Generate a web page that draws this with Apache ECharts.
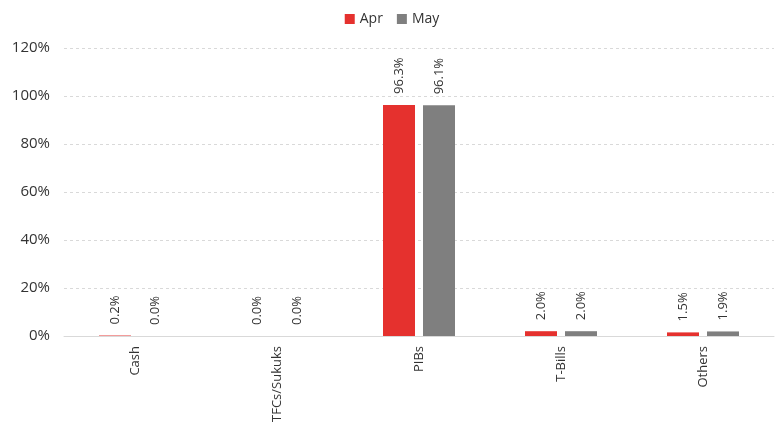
<!DOCTYPE html>
<html><head><meta charset="utf-8">
<script src="https://cdn.jsdelivr.net/npm/echarts@6/dist/echarts.min.js"></script>
<style>html,body{margin:0;padding:0;background:#fff}#c{width:784px;height:427px}</style>
</head><body><div id="c"></div>
<script>
var categories = ['Cash', 'TFCs/Sukuks', 'PIBs', 'T-Bills', 'Others'];
var aprValues = [0.2, 0.0, 96.3, 2.0, 1.5];
var mayValues = [0.0, 0.0, 96.1, 2.0, 1.9];
var seriesNames = ['Apr', 'May'];
var FONT = 'Open Sans';
var chart = echarts.init(document.getElementById('c'));
function lbl() {
  return {show: true, position: 'top', rotate: 90, align: 'left', verticalAlign: 'middle', distance: 11,
    color: '#333333', fontFamily: FONT, fontSize: 13,
    formatter: function (p) { return p.value.toFixed(1) + '%'; }};
}
chart.setOption({
  animation: false,
  legend: {top: 7, left: 'center', itemWidth: 10, itemHeight: 10, itemGap: 14, icon: 'rect',
    textStyle: {fontFamily: FONT, fontSize: 14, color: '#333333'}, data: seriesNames},
  grid: {left: 64, right: 10, top: 48, bottom: 91, containLabel: false, outerBoundsMode: 'none'},
  xAxis: {type: 'category', data: categories,
    axisLine: {lineStyle: {color: '#d9d9d9', width: 1}}, axisTick: {show: false},
    axisLabel: {rotate: 90, margin: 10, color: '#333333', fontFamily: FONT, fontSize: 13}},
  yAxis: {type: 'value', min: 0, max: 120, interval: 20,
    axisLine: {show: false}, axisTick: {show: false},
    axisLabel: {formatter: '{value}%', margin: 14, color: '#333333', fontFamily: FONT, fontSize: 15},
    splitLine: {lineStyle: {color: '#d9d9d9', type: [3, 3]}}},
  series: [
    {name: seriesNames[0], type: 'bar', data: aprValues, barWidth: 32, barGap: '25%',
      itemStyle: {color: '#e5312e'}, label: lbl()},
    {name: seriesNames[1], type: 'bar', data: mayValues, barWidth: 32, barGap: '25%',
      itemStyle: {color: '#7f7f7f'}, label: lbl()}
  ]
});
</script></body></html>
